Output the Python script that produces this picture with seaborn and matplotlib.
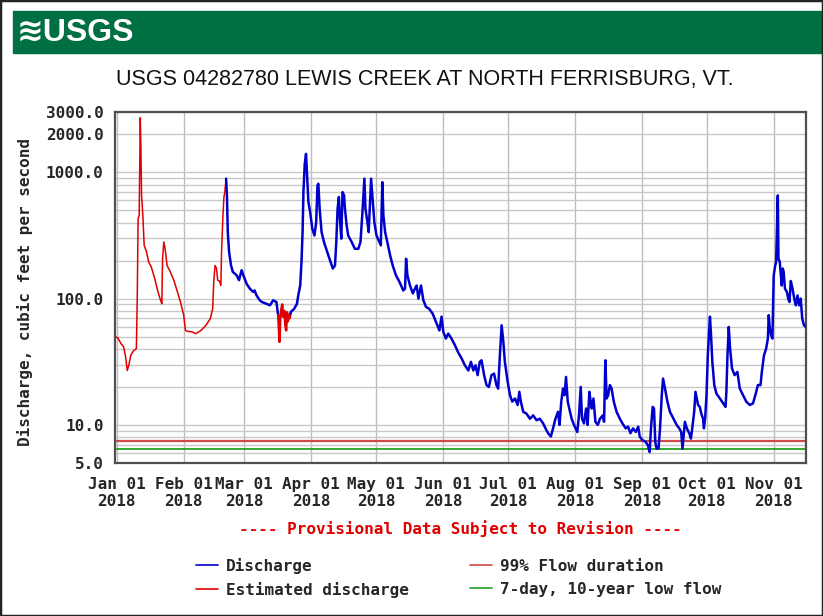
import pandas as pd
import matplotlib
matplotlib.use("Agg")
import matplotlib.pyplot as plt
import matplotlib.dates as mdates
from matplotlib.ticker import FixedLocator, FixedFormatter, LogLocator, NullFormatter
from matplotlib.patches import Rectangle
from matplotlib.lines import Line2D
import seaborn as sns

sns.set_theme(style="white")
plt.rcParams["font.family"] = ["DejaVu Sans Mono", "DejaVu Sans"]
plt.rcParams["font.weight"] = "bold"

START = pd.Timestamp("2018-01-01")

# ---- discharge readings (days after Jan 01 2018, cubic feet per second) ----
# estimated record, January - early March (ice affected)
est1_day = [-0.9, 0.5, 2.0, 3.2, 4.0, 4.9, 5.6, 6.5, 7.6, 9.1, 9.5, 9.9, 10.4, 10.9, 11.2,
            11.5, 12.1, 12.7, 13.8, 14.8, 16.0, 17.6, 19.1, 20.3, 20.9, 21.2, 21.8, 22.4,
            23.3, 24.8, 26.4, 27.9, 29.5, 31.0, 31.8, 32.9, 34.7, 36.7, 39.0, 41.3, 43.3,
            44.4, 44.9, 45.5, 46.2, 46.7, 47.5, 48.2, 48.5, 49.1, 49.6, 50.0, 50.6]
est1_cfs = [50, 49, 44, 41.5, 35.6, 27, 29.7, 35.6, 38.3, 40.3, 100, 428, 455, 2700, 1535,
            656, 455, 264, 234, 195, 178, 144, 113, 97, 91, 207, 281, 248,
            183, 163, 140, 116, 94, 74, 56, 55, 54.6, 52.9, 56, 61.5, 69.5,
            83, 136, 183, 173, 140, 138, 127, 234, 428, 637, 690, 890]

# provisional record, March
dis1_day = [50.6, 51.0, 51.4, 52.0, 52.9, 53.7, 55.5, 56.6, 57.8, 58.6, 60.1, 61.6, 63.1,
            63.8, 64.7, 66.2, 67.2, 69.3, 70.9, 72.4, 73.9, 74.7]
dis1_cfs = [890, 656, 336, 234, 183, 163, 153, 140, 168, 153, 131, 120, 113,
            116, 106, 97, 94, 91, 88.5, 97, 94, 74]

# estimated record, late March
est2_day = [74.7, 75.0, 75.3, 75.7, 76.2, 76.6, 77.0, 77.6, 78.0, 78.4, 78.8, 79.2, 79.6,
            80.0, 80.4]
est2_cfs = [74, 60, 45.5, 70, 83, 90, 72, 80, 62, 56, 78, 66, 74, 70, 76]

# provisional record, April - November
dis2_day = [80.4, 80.6, 82.1, 83.4, 84.0, 84.9, 85.5, 86.0, 86.4, 87.0, 87.6, 88.1, 88.7,
            89.5, 90.5, 91.5, 92.3, 92.9, 93.3, 93.9, 94.8, 95.9, 97.4, 99.0, 100.0, 101.0,
            101.6, 102.2, 102.8, 103.3, 103.9, 104.5, 105.2, 105.6, 106.4, 107.1, 108.7,
            110.2, 111.8, 112.8, 113.7, 114.6, 115.1, 116.0, 116.6, 117.1, 117.7, 118.4,
            119.2, 120.2, 121.5, 122.2, 122.9, 123.4, 124.2, 125.2, 126.5, 127.7, 129.2,
            130.8, 132.6, 133.4, 133.9, 134.5, 135.7, 137.0, 138.0, 138.8, 139.6, 140.8,
            141.9, 143.1, 144.6, 146.2, 147.7, 149.3, 150.3, 151.1, 152.3, 153.4, 154.9,
            156.5, 158.0, 159.6, 161.1, 162.7, 163.9, 165.0, 166.0, 167.0, 168.0, 168.8,
            170.0, 171.1, 172.2, 173.4, 174.6, 175.7, 176.5, 177.3, 178.1, 178.9, 179.6,
            180.9, 182.0, 183.0, 184.3, 185.5, 186.3, 187.0, 188.1, 189.6, 191.2, 192.7,
            194.3, 195.8, 197.3, 198.4, 199.6, 200.9, 201.9, 203.0, 204.2, 204.9, 205.7,
            206.5, 207.2, 207.9, 208.7, 209.4, 210.5, 211.6, 213.1, 213.9, 214.7, 215.3,
            216.2, 217.2, 217.9, 218.7, 219.3, 219.8, 220.6, 221.5, 222.6, 223.6, 224.9,
            225.5, 226.1, 226.7, 227.4, 228.2, 229.0, 230.0, 231.3, 232.8, 234.0, 235.5,
            236.6, 237.7, 238.9, 240.2, 241.3, 242.0, 243.2, 244.7, 245.8, 246.6, 247.2,
            248.0, 248.6, 249.2, 249.8, 250.7, 251.4, 252.2, 252.8, 253.7, 254.8, 256.0,
            257.6, 259.1, 260.3, 261.2, 261.8, 262.9, 263.8, 264.9, 265.7, 266.3, 267.2,
            267.8, 268.4, 269.0, 269.8, 270.5, 271.3, 271.7, 272.3, 272.9, 273.5, 274.0,
            274.5, 275.0, 275.6, 276.5, 277.5, 279.1, 280.6, 281.7, 282.1, 282.6, 283.2,
            283.8, 284.7, 285.9, 287.2, 288.3, 289.8, 291.3, 292.9, 294.4, 295.5, 296.7,
            297.9, 298.5, 299.5, 300.5, 301.3, 301.7, 302.2, 302.8, 303.4, 304.0, 304.7,
            305.1, 305.9, 306.2, 306.8, 307.7, 308.2, 308.6, 309.2, 310.1, 310.7, 311.3,
            311.9, 312.7, 313.5, 314.2, 315.0, 315.7, 316.5, 317.2, 318.0, 318.8]
dis2_cfs = [76, 78.5, 83, 91, 106, 127, 195, 336, 697, 1166, 1400, 944, 581,
            484, 357, 316, 404, 787, 811, 514, 336, 281, 234, 195, 173, 183,
            281, 514, 637, 428, 298, 697, 656, 514, 380, 316, 281,
            248, 248, 281, 484, 890, 514, 404, 336, 514, 890, 617,
            404, 316, 281, 264, 836, 455, 336, 281, 220, 183, 153,
            136, 116, 120, 207, 153, 127, 110, 120, 127, 100, 127,
            97, 86, 83, 76, 65.5, 56, 72, 54.6, 48.3, 52.9, 48.3,
            42.8, 37.5, 33.6, 29.7, 27, 31.6, 27, 29.7, 24.8, 31.6, 32.5,
            24.8, 20.7, 20, 24.8, 25.5, 20.7, 19.4, 35.6, 61.5, 45.5, 31.6,
            21.9, 17.2, 15.3, 16.2, 14.4, 18.3, 15.3, 12.7, 12.3, 11.2, 11.9,
            10.9, 11.2, 10.3, 9.4, 8.6, 8.1, 9.4, 11.2, 12.7, 10, 15.3,
            19.4, 17.2, 24, 15.3, 13.5, 11.2, 10, 8.8, 11.9, 20, 11.2,
            10.3, 13.5, 10, 18.3, 15.3, 13.5, 16.2, 10.6, 10, 11.2, 11.9,
            10.6, 32.5, 16.2, 17.2, 20.7, 19.4, 15.3, 12.7, 11.2, 10.3, 9.4,
            9.7, 8.6, 9.4, 8.8, 9.7, 8.1, 7.6, 7.36, 6.9, 6.1, 9.4,
            13.9, 13.5, 7.36, 6.5, 6.5, 9.4, 17.2, 23.3, 19.4, 15.3, 12.7,
            11.2, 10, 9.4, 8.8, 6.5, 10.6, 9.4, 8.6, 7.8, 9.4, 12.7,
            18.3, 16.2, 14.4, 13.9, 12.3, 11.2, 9.4, 11.5, 17.2, 35.6, 51.3,
            72, 51.3, 31.6, 20.7, 17.7, 16.2, 14.8, 13.9, 18.3, 35.6, 59.7,
            40.3, 28, 24.8, 26.3, 19.4, 17.2, 15.3, 14.4, 14.8, 17.2, 20.7,
            20.7, 26.3, 35.6, 40.3, 48.3, 74, 58, 51.3, 48.3, 153, 183,
            195, 656, 207, 195, 127, 173, 163, 120, 113, 100, 94,
            138, 120, 100, 88.5, 106, 88.5, 100, 69.5, 61.5, 60]

# reference flows (cfs)
flow_99pct = 7.5
flow_7q10 = 6.5

month_starts = pd.date_range("2018-01-01", "2018-11-01", freq="MS")
month_labels = [d.strftime("%b %d\n%Y") for d in month_starts]
y_ticks = [5, 10, 100, 1000, 2000, 3000]
y_labels = ["5.0", "10.0", "100.0", "1000.0", "2000.0", "3000.0"]

BLUE = "#0000CC"
RED = "#E00000"
REF_RED = "#D04848"
GREEN = "#22A022"
FS = 11.5
NARROW = ["Liberation Sans Narrow", "Liberation Sans", "DejaVu Sans"]


def as_frame(days, cfs):
    return pd.DataFrame({"date": START + pd.to_timedelta(days, unit="D"), "cfs": cfs})


W, H = 823, 616
fig = plt.figure(figsize=(W / 100, H / 100), dpi=100)
fig.patch.set_facecolor("white")

ax_l, ax_r, ax_t, ax_b = 114.7, 805.7, 112, 463
ax = fig.add_axes([ax_l / W, 1 - ax_b / H, (ax_r - ax_l) / W, (ax_b - ax_t) / H])

# reference flow lines
ax.axhline(flow_99pct, color=REF_RED, lw=1.6, zorder=2)
ax.axhline(flow_7q10, color=GREEN, lw=1.3, zorder=2)

# discharge record, drawn segment by segment
segments = [(est1_day, est1_cfs, RED, 1.1), (dis1_day, dis1_cfs, BLUE, 1.8),
            (est2_day, est2_cfs, RED, 1.8), (dis2_day, dis2_cfs, BLUE, 1.8)]
for days, cfs, col, lw in segments:
    sns.lineplot(data=as_frame(days, cfs), x="date", y="cfs", color=col, lw=lw,
                 estimator=None, sort=False, ax=ax, legend=False, zorder=3)

ax.set_yscale("log")
ax.set_ylim(5, 3000)
ax.set_xlim(START + pd.Timedelta(days=-0.93), START + pd.Timedelta(days=318.8))

ax.yaxis.set_major_locator(FixedLocator(y_ticks))
ax.yaxis.set_major_formatter(FixedFormatter(y_labels))
ax.yaxis.set_minor_locator(LogLocator(base=10, subs=range(2, 10)))
ax.yaxis.set_minor_formatter(NullFormatter())
ax.xaxis.set_major_locator(FixedLocator(mdates.date2num(month_starts)))
ax.xaxis.set_major_formatter(FixedFormatter(month_labels))

ax.grid(True, which="both", axis="y", color="#C8C8C8", lw=1.0, zorder=0)
ax.grid(True, which="major", axis="x", color="#BDBDBD", lw=1.0, zorder=0)
ax.set_axisbelow(True)
ax.tick_params(axis="both", which="both", length=0, labelsize=FS)
ax.tick_params(axis="y", pad=8)
ax.tick_params(axis="x", pad=10)
for lab in ax.get_xticklabels() + ax.get_yticklabels():
    lab.set_fontweight("bold")
    lab.set_linespacing(1.15)
for sp in ax.spines.values():
    sp.set_color("#505050")
    sp.set_linewidth(1.6)

ax.set_xlabel("")
ax.set_ylabel("")
fig.text(25 / W, 1 - 292 / H, "Discharge, cubic feet per second", rotation=90,
         ha="center", va="center", fontsize=FS, fontweight="bold")

# header banner and logo
fig.patches.append(Rectangle((13 / W, 1 - 53 / H), 1 - 13 / W, 42 / H,
                             transform=fig.transFigure, color="#006F41", zorder=0))
fig.text(17 / W, 1 - 33 / H, "≋USGS", color="white", fontsize=23, fontweight="bold",
         family=NARROW, ha="left", va="center")

fig.text(425 / W, 1 - 80 / H, "USGS 04282780 LEWIS CREEK AT NORTH FERRISBURG, VT.",
         fontsize=15.5, fontweight="normal", family=NARROW,
         ha="center", va="center", color="#111111")

fig.text(460 / W, 1 - 529 / H, "---- Provisional Data Subject to Revision ----",
         color=RED, fontsize=FS, fontweight="bold", ha="center", va="center")

# legend
handles = [Line2D([], [], color=BLUE, lw=1.2), Line2D([], [], color=RED, lw=1.2),
           Line2D([], [], color=REF_RED, lw=1.2), Line2D([], [], color=GREEN, lw=1.2)]
labels = ["Discharge", "Estimated discharge", "99% Flow duration", "7-day, 10-year low flow"]
leg = fig.legend(handles, labels, loc="upper left", bbox_to_anchor=(196 / W, 1 - 558 / H),
                 ncol=2, frameon=False, fontsize=FS, handlelength=1.4, handletextpad=0.5,
                 columnspacing=3.8, labelspacing=0.5, borderpad=0, borderaxespad=0)
for t in leg.get_texts():
    t.set_fontweight("bold")

fig.patches.append(Rectangle((0, 0), 1, 1, transform=fig.transFigure, fill=False,
                             ec="#222222", lw=2.5, zorder=10))

fig.savefig("out.png", dpi=100)
